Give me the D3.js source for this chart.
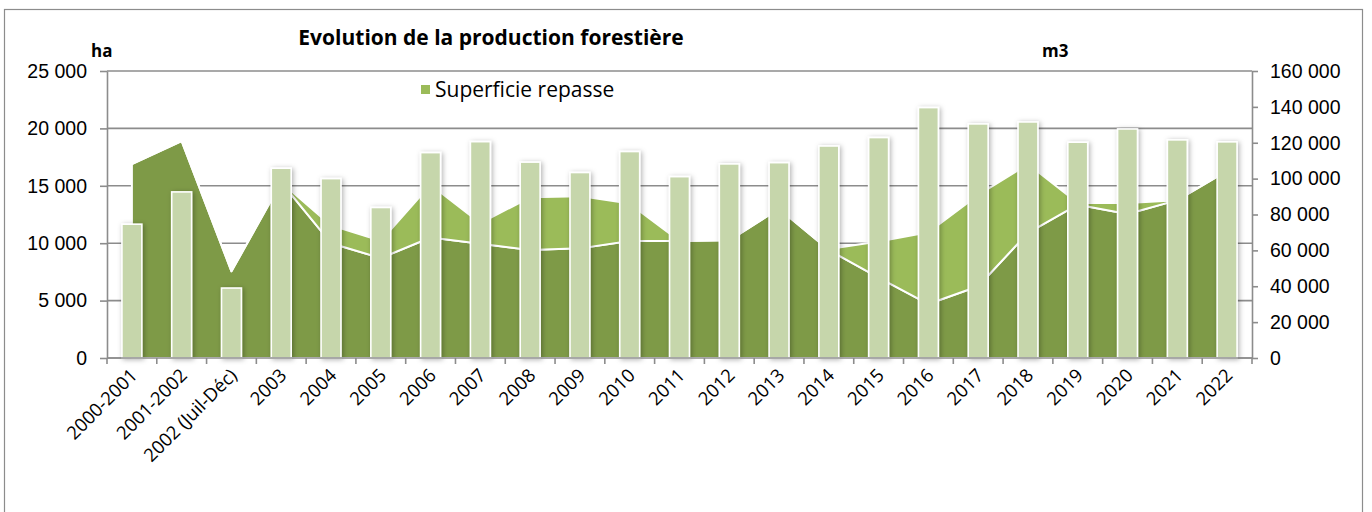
<!DOCTYPE html>
<html>
<head>
<meta charset="utf-8">
<script src="https://cdn.jsdelivr.net/npm/d3@7"></script>
<style>
  body { margin: 0; background: #fff; }
  svg { font-family: "Open Sans", "Noto Sans", sans-serif; }
</style>
</head>
<body>
<div id="chart"></div>
<script>
// categories + the three series
const categories = ['2000-2001', '2001-2002', '2002 (Juil-Déc)', '2003', '2004', '2005', '2006', '2007',
  '2008', '2009', '2010', '2011', '2012', '2013', '2014', '2015', '2016', '2017', '2018', '2019',
  '2020', '2021', '2022'];

// ha, dark area (bottom of stack)
const superficieExploitee = [16900, 18900, 7550, 15300, 10000, 8700, 10500, 9950, 9400, 9550, 10200,
  10200, 10250, 13000, 9400, 7000, 4700, 6250, 10900, 13350, 12550, 13750, 16300];
// ha, light area stacked above
const superficieRepasse = [0, 0, 0, 0, 1550, 1500, 4600, 1800, 4600, 4550, 3250,
  0, 0, 150, 100, 3150, 6250, 7950, 6000, 150, 950, 0, 0];
// m3, bars on the right axis
const productionM3 = [74600, 92600, 39000, 105800, 100000, 83900, 114500, 120600, 109200, 103400, 115100,
  101100, 108200, 108900, 118200, 122900, 139600, 130500, 131600, 120300, 127700, 121600, 120500];

const leftTicks = [0, 5000, 10000, 15000, 20000, 25000];
const rightTicks = [0, 20000, 40000, 60000, 80000, 100000, 120000, 140000, 160000];

const width = 1372;
const height = 512;
const margin = { top: 71, right: 120, bottom: 154, left: 107 };
const innerW = width - margin.left - margin.right;
const innerH = height - margin.top - margin.bottom;

const fmt = d => d3.format(',')(d).replace(/,/g, ' ');

const svg = d3.select('#chart').append('svg')
  .attr('width', width)
  .attr('height', height);

const defs = svg.append('defs');
const shadow = defs.append('filter').attr('id', 'shadow')
  .attr('x', '-50%').attr('y', '-10%').attr('width', '200%').attr('height', '120%');
shadow.append('feDropShadow')
  .attr('dx', 1.5).attr('dy', 1)
  .attr('stdDeviation', 2.5)
  .attr('flood-color', '#000')
  .attr('flood-opacity', 0.3);

// outer frame
svg.append('rect')
  .attr('x', 4.5).attr('y', 9.5)
  .attr('width', 1358).attr('height', 530)
  .attr('fill', 'none')
  .attr('stroke', '#8c8c8c')
  .attr('stroke-width', 1.2);

const g = svg.append('g').attr('transform', `translate(${margin.left},${margin.top})`);

const x = d3.scaleBand().domain(categories).range([0, innerW]).paddingInner(0).paddingOuter(0);
const yLeft = d3.scaleLinear().domain([0, 25000]).range([innerH, 0]);
const yRight = d3.scaleLinear().domain([0, 160000]).range([innerH, 0]);
const cx = d => x(d) + x.bandwidth() / 2;

// gridlines
g.append('g').selectAll('line')
  .data(leftTicks)
  .join('line')
  .attr('x1', 0).attr('x2', innerW)
  .attr('y1', d => yLeft(d)).attr('y2', d => yLeft(d))
  .attr('stroke', '#8c8c8c')
  .attr('stroke-width', 1.6);

// stacked areas
const rows = categories.map((c, i) => ({ cat: c, base: superficieExploitee[i], repasse: superficieRepasse[i] }));
const stack = d3.stack().keys(['base', 'repasse'])(rows);
const areaColors = ['#7e9a47', '#9bbb59'];

const area = d3.area()
  .x(d => cx(d.data.cat))
  .y0(d => yLeft(d[0]))
  .y1(d => yLeft(d[1]));

g.append('g').selectAll('path')
  .data(stack)
  .join('path')
  .attr('d', area)
  .attr('fill', (d, i) => areaColors[i])
  .attr('stroke', '#fff')
  .attr('stroke-width', 2)
  .attr('stroke-linejoin', 'round');

// bars
const barW = x.bandwidth() * 0.4;
g.append('g').selectAll('rect')
  .data(productionM3)
  .join('rect')
  .attr('x', (d, i) => cx(categories[i]) - barW / 2)
  .attr('y', d => yRight(d))
  .attr('width', barW)
  .attr('height', d => innerH - yRight(d))
  .attr('fill', '#c6d6ab')
  .attr('stroke', '#fff')
  .attr('stroke-width', 1.6)
  .attr('filter', 'url(#shadow)');

// axes
const axisColor = '#8c8c8c';
const styleAxis = sel => {
  sel.select('.domain').attr('stroke', axisColor).attr('stroke-width', 1.6);
  sel.selectAll('.tick line').attr('stroke', axisColor).attr('stroke-width', 1.6);
  sel.selectAll('text').attr('fill', '#000').style('font-size', '19.5px');
};

g.append('g')
  .call(d3.axisLeft(yLeft).tickValues(leftTicks).tickFormat(fmt).tickSize(7).tickPadding(13).tickSizeOuter(0))
  .call(styleAxis);

g.append('g')
  .attr('transform', `translate(${innerW},0)`)
  .call(d3.axisRight(yRight).tickValues(rightTicks).tickFormat(fmt).tickSize(6).tickPadding(12).tickSizeOuter(0))
  .call(styleAxis);

// x axis: ticks on category boundaries, labels rotated
const xAxis = g.append('g').attr('transform', `translate(0,${innerH})`);
xAxis.append('line')
  .attr('x1', 0).attr('x2', innerW)
  .attr('stroke', axisColor).attr('stroke-width', 1.6);
xAxis.selectAll('line.tk')
  .data(d3.range(categories.length + 1))
  .join('line')
  .attr('class', 'tk')
  .attr('x1', i => i * x.bandwidth()).attr('x2', i => i * x.bandwidth())
  .attr('y1', 0).attr('y2', 6)
  .attr('stroke', axisColor).attr('stroke-width', 1.6);
xAxis.selectAll('text')
  .data(categories)
  .join('text')
  .attr('transform', d => `translate(${cx(d) + 2},${14}) rotate(-45)`)
  .attr('text-anchor', 'end')
  .attr('dy', '0.35em')
  .style('font-size', '18.5px')
  .text(d => d);

// title, unit labels, legend
svg.append('text')
  .attr('x', 491).attr('y', 45)
  .attr('text-anchor', 'middle')
  .style('font-size', '21px').style('font-weight', 'bold')
  .text('Evolution de la production forestière');

svg.append('text')
  .attr('x', 91).attr('y', 57)
  .style('font-size', '17px').style('font-weight', 'bold')
  .text('ha');

svg.append('text')
  .attr('x', 1042).attr('y', 57)
  .style('font-size', '17px').style('font-weight', 'bold')
  .text('m3');

const legend = svg.append('g').attr('transform', 'translate(421,85)');
legend.append('rect')
  .attr('width', 9).attr('height', 9)
  .attr('fill', areaColors[1]);
legend.append('text')
  .attr('x', 14).attr('y', 4.5).attr('dy', '0.35em')
  .style('font-size', '21px')
  .text('Superficie repasse');
</script>
</body>
</html>
